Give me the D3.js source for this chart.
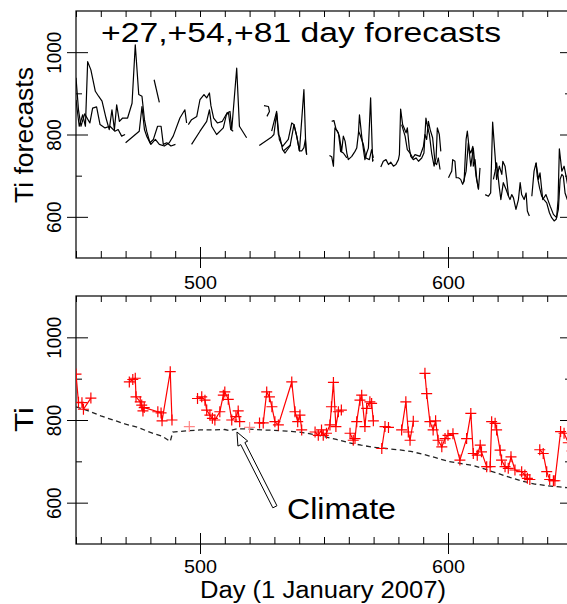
<!DOCTYPE html>
<html>
<head>
<meta charset="utf-8">
<script src="https://cdn.jsdelivr.net/npm/d3@7"></script>
<style>
  body { margin: 0; background: #fff; }
  svg { display: block; }
</style>
</head>
<body>
<div id="chart"></div>
<script>
// axis ranges and ticks
const dayRange = [450, 650];
const tiRange = [500, 1100];
const minorDays = [450, 460, 470, 480, 490, 500, 510, 520, 530, 540, 550, 560, 570, 580, 590, 600, 610, 620, 630, 640, 650];
const majorDays = [500, 600];
const majorTi = [600, 800, 1000];
const minorTi = [700, 900];

// top panel: forecast pieces, [day, Ti]
const fc1a = [[450,884],[451.3,820],[452.7,848],[453.8,820],[454.7,977],[456,957],[457.8,905],[459.1,893],[460.5,881],[462.1,840],[463.4,812],[464.5,860],[465.5,812],[466.4,872],[467.5,832],[468.8,840],[470.8,840],[472.6,876],[473.9,1018],[475.3,897],[476.6,893],[477.6,836],[478.5,808],[479.8,780],[481.2,788],[482.9,820],[484.3,820],[485.2,776],[486.6,780],[488.3,772],[490.1,776]];
const fc1b = [[450,938],[451,860],[452,820],[453.5,850],[455.6,828],[456.7,864],[458.3,867],[459.7,824],[461.7,816],[463.7,820],[465.7,808],[467,812],[468.4,796],[469.8,800]];
const fc1c = [[470,780],[475.5,808],[476.6,868],[477.6,812],[478.5,796],[480.2,776],[482,788],[483.6,776],[485.6,772],[487.6,780],[489.2,796],[491.9,840],[493.9,860],[494.6,828]];
const fc1d = [[496.6,776],[500,808],[502.7,832],[503.8,860],[504.7,820],[506.7,800],[509.4,816],[510.8,852],[512.1,856],[512.8,812],[514.8,961],[515.9,820],[518.8,792]];
const fc1e = [[495.3,824],[496.6,836],[498.7,844],[500,885],[501.6,897],[502.7,889],[503.8,901],[504.4,870],[505.5,840],[507,828],[509,832],[510.5,848],[511.5,852],[512.4,812],[513.4,808]];
const fc1f = [[481.5,933],[483.6,878]];
const fc2a = [[523.9,773],[528.9,794],[529.8,800],[530.9,852],[531.6,800],[532.3,792],[533.3,763],[534.3,755],[536.3,772],[537.9,824],[539,796],[540.1,760],[541.9,909],[542.7,763],[543,751]];
const fc2b = [[525.8,870],[527.6,868],[528,856],[527,844]];
const fc2c = [[528.9,808],[530.9,856],[532,788],[533.3,771],[535.6,788],[537,828],[537.9,824],[539,796],[540.1,760],[541,760],[541.9,768],[542.5,788],[543,751]];
const fc2d = [[533.6,760],[536.6,775]];
const fc3a = [[552.2,749],[553.1,746],[553.8,723],[554.4,816],[555.4,808],[556.2,796],[557.1,759],[557.8,796],[558.5,784],[559.2,755],[559.8,739],[561.2,747],[562.5,759],[563.2,767],[563.9,804],[564.3,848],[565.2,796],[565.9,763],[566.5,739],[567.2,755],[567.9,767],[568.8,889],[569.6,735],[569.9,739]];
const fc3b = [[553.1,832],[554,834],[554.9,812],[555.8,804],[556.5,771],[556.7,759],[557.8,755],[559.2,743]];
const fc3c = [[563.9,808],[564.5,800],[565.9,775],[566.9,743],[568.3,739],[569.2,763],[569.9,743]];
const fc4a = [[572.9,721],[573.9,735],[575,739],[576,727],[576.9,733],[578,723],[579,727],[580,739],[580.4,751],[580.9,862],[581.7,824],[582.3,816],[583.1,804],[583.6,816],[584.4,767],[585,747],[586,739],[587.1,743],[588.1,735],[589.4,743],[590.3,755],[591.1,840],[591.7,820],[592.5,800],[593.4,755],[594.4,723],[595.2,743],[595.7,816],[596.5,800],[597.1,759]];
const fc4b = [[581.3,824],[582.7,796],[583.6,763],[584.7,755],[585.8,743],[586.7,751],[588.7,747],[590.1,771],[590.7,800],[591.4,788],[592.1,832],[592.8,812],[593.8,792],[594.8,731],[595.4,727],[596.1,743],[596.8,715]];
const fc5a = [[600.2,695],[600.8,703],[601.5,711],[601.9,739],[602.8,735],[603.3,695],[604.2,695],[605.1,691],[605.9,679],[606.5,687],[607.3,788],[607.8,808],[608.6,763],[609.2,755],[610,771],[610.2,723],[610.9,739],[611.6,691],[612.3,667],[612.9,719]];
const fc5b = [[606.2,683],[607.3,711],[608.2,780],[609.2,723],[610.2,767],[611.3,699],[612.3,667]];
const fc6a = [[615,654],[616.3,650],[617.2,658],[618,830],[619,747],[619.6,691],[620.7,723],[621.7,703],[622.1,735],[623,723],[623.7,691],[624.4,650]];
const fc6b = [[618.3,691],[619,711],[619.6,731],[620.7,671],[621.3,642],[622.3,683],[623.4,667],[624.4,650],[625,642],[625.7,654],[626.4,646],[627.4,618],[628.4,642],[629.1,683],[629.7,654],[630.7,642],[631.5,658],[632,614],[632.8,602]];
const fc7a = [[633.8,650],[634.7,711],[635.5,731],[636,699],[636.9,671],[637.8,650],[638.7,642],[639.8,634],[640.9,610],[641.8,598],[642.8,590],[643.6,594],[644.5,618],[645.2,691],[645.9,703],[646.5,699],[647.2,658],[648.1,642],[650,650]];
const fc7b = [[635.5,731],[636.5,691],[637.1,707],[638.2,642],[639.5,654],[641.2,626],[642.5,606],[643.8,598],[644.4,642],[644.9,765],[645.9,711],[646.8,723],[647.6,699],[648.5,670],[650,640]];
const forecastLines = [fc1a, fc1b, fc1c, fc1d, fc1e, fc1f, fc2a, fc2b, fc2c, fc2d, fc3a, fc3b, fc3c, fc4a, fc4b, fc5a, fc5b, fc6a, fc6b, fc7a, fc7b];

// bottom panel: observed Ti (null = gap)
const observed = [
  [450,911],[451,843],[452.4,842],[453,826],[456,853], null,
  [471.5,892],[472.9,898],[473.9,901],[474.2,856],[475.9,844],[476.5,836],[477,822],[477.5,830],[483,820],[484.3,817],[484.7,798],[488,917],[488.7,800], null,
  [499,852],[500.7,856],[502,848],[502.7,824],[504,812],[505,804],[506,800],[508,820],[509.4,860],[510,868],[511.4,850],[512.8,800],[514.5,808],[515.4,822],[516,796], null,
  [524,793],[525.5,793],[526.9,868],[528,856],[529,832],[530.2,796],[531.6,788],[537,892],[538.3,820],[539.4,796],[540.3,812],[541,776], null,
  [546.4,771],[547.7,763],[549,776],[549.7,763],[551,768],[552.4,788],[553,832],[553.8,891],[554.8,784],[555.8,820],[557,824], null,
  [560.5,768],[561.8,751],[562.5,755],[563.2,796],[564.5,848],[565.2,860],[566.5,784],[567.2,828],[568.5,844],[569.2,840],[569.9,798], null,
  [573.3,731],[574.6,784],[576,782], null,
  [581.3,776],[583,844],[584,771],[584.7,751],[586,797], null,
  [590.7,913],[591.4,864],[592.7,796],[594,776],[595,798],[596,751],[597.5,735],[598.8,755],[600,763],[602,767],[604.8,703],[607.5,755],[609.2,816],[610.2,719],[611.8,715],[613,739],[613.5,723],[615.6,687],[617,687],[617.6,796],[619,792],[619.6,776],[621,727],[621.6,703],[623,687],[624.3,683],[625.4,711],[627,679],[629.7,675],[631,667],[632,659],[633,656], null,
  [637,728],[638.4,719],[639.8,675],[641,656],[642.5,653],[643.1,653],[645.4,772],[646.8,768],[648.5,745],[650,725]
];
const observedFaint = [[495.7,784],[520,782]];

// climate curve
const climDays = [450,455,460,465,470,475,480,485,488,489,495,500,505,510,512,515,520,525,530,535,540,545,550,555,560,565,570,575,580,585,590,595,600,605,610,615,620,625,630,635,640,645,650];
const climVals = [832,822,810,800,790,782,770,760,748,771,774,776,776,777,774,779,778,776,775,773,771,766,760,753,745,739,734,731,728,724,717,709,700,695,690,681,671,661,652,645,641,638,635];

// arrow: tip and tail in data units
const arrowTip = [514.9, 771];
const arrowTail = [530.2, 590];

function drawChart(){
    const width = 567;
    const height = 604;
    const left = 76;
    const right = 572;
    const font = "'Liberation Sans', Arial, Helvetica, sans-serif";

    const svg = d3.select('#chart')
        .append('svg')
        .attr('width', width)
        .attr('height', height)
        .attr('style', 'background-color: white');

    const x = d3.scaleLinear().domain(dayRange).range([left, right]);

    const panels = [
        {top: 11, bottom: 258, id: 'clipTop'},
        {top: 296, bottom: 544, id: 'clipBot'}
    ];
    panels.forEach(p => {
        p.y = d3.scaleLinear().domain(tiRange).range([p.bottom, p.top]);
    });

    // frames, ticks, labels
    panels.forEach((p, k) => {
        svg.append('defs').append('clipPath').attr('id', p.id)
            .append('rect')
            .attr('x', left).attr('y', p.top)
            .attr('width', right - left).attr('height', p.bottom - p.top);

        svg.append('rect')
            .attr('x', left).attr('y', p.top)
            .attr('width', right - left).attr('height', p.bottom - p.top)
            .attr('fill', 'none').attr('stroke', '#000').attr('stroke-width', 1.2);

        // minor day ticks bottom & top (inward)
        svg.append('g')
            .attr('transform', `translate(0,${p.bottom})`)
            .call(d3.axisBottom(x).tickValues(minorDays).tickSizeInner(-7).tickSizeOuter(0).tickFormat(''))
            .call(g => g.select('.domain').remove());
        svg.append('g')
            .attr('transform', `translate(0,${p.top})`)
            .call(d3.axisTop(x).tickValues(minorDays).tickSizeInner(-6).tickSizeOuter(0).tickFormat(''))
            .call(g => g.select('.domain').remove());

        // major day ticks with labels
        const maj = svg.append('g')
            .attr('transform', `translate(0,${p.bottom})`)
            .call(d3.axisBottom(x).tickValues(majorDays).tickSizeInner(10).tickSizeOuter(0).tickFormat(d3.format('d')));
        maj.select('.domain').remove();
        maj.selectAll('line').attr('y1', -11);
        maj.selectAll('text')
            .attr('y', k === 0 ? 31 : 29).attr('dy', 0)
            .attr('font-size', 18).attr('font-family', font).attr('fill', '#000')
            .attr('textLength', 33).attr('lengthAdjust', 'spacingAndGlyphs');

        // left axis
        const yl = svg.append('g')
            .attr('transform', `translate(${left},0)`)
            .call(d3.axisLeft(p.y).tickValues(majorTi).tickSizeInner(9).tickSizeOuter(0).tickFormat(d3.format('d')));
        yl.select('.domain').remove();
        yl.selectAll('line').attr('x1', 12);
        yl.selectAll('text')
            .attr('x', 0).attr('dy', 0)
            .attr('text-anchor', 'middle')
            .attr('transform', 'translate(-15,0) rotate(-90)')
            .attr('font-size', 21).attr('font-family', font).attr('fill', '#000')
            .attr('textLength', d => String(d).length * 10.5)
            .attr('lengthAdjust', 'spacingAndGlyphs');
        svg.append('g')
            .attr('transform', `translate(${left},0)`)
            .call(d3.axisLeft(p.y).tickValues(minorTi).tickSizeInner(-6).tickSizeOuter(0).tickFormat(''))
            .call(g => g.select('.domain').remove());

        // right axis (inward ticks)
        svg.append('g')
            .attr('transform', `translate(${right},0)`)
            .call(d3.axisRight(p.y).tickValues(majorTi).tickSizeInner(-12).tickSizeOuter(0).tickFormat(''))
            .call(g => g.select('.domain').remove());
        svg.append('g')
            .attr('transform', `translate(${right},0)`)
            .call(d3.axisRight(p.y).tickValues(minorTi).tickSizeInner(-7).tickSizeOuter(0).tickFormat(''))
            .call(g => g.select('.domain').remove());
    });

    const yT = panels[0].y;
    const yB = panels[1].y;

    // ---- top panel: forecasts
    const fline = d3.line().x(d => x(d[0])).y(d => yT(d[1]));
    svg.append('g').attr('clip-path', 'url(#clipTop)')
        .selectAll('path')
        .data(forecastLines)
        .enter()
        .append('path')
        .attr('d', d => fline(d))
        .attr('fill', 'none')
        .attr('stroke', '#000')
        .attr('stroke-width', 1.2)
        .attr('stroke-linejoin', 'round');

    svg.append('text')
        .attr('x', 101).attr('y', 42)
        .attr('font-size', 27).attr('font-family', font)
        .attr('textLength', 400).attr('lengthAdjust', 'spacingAndGlyphs')
        .text('+27,+54,+81 day forecasts');

    svg.append('text')
        .attr('transform', 'translate(33,135) rotate(-90)')
        .attr('text-anchor', 'middle')
        .attr('font-size', 25).attr('font-family', font)
        .attr('textLength', 136).attr('lengthAdjust', 'spacingAndGlyphs')
        .text('Ti forecasts');

    // ---- bottom panel
    const gB = svg.append('g').attr('clip-path', 'url(#clipBot)');

    const climate = climDays.map((d, i) => [d, climVals[i]]);
    gB.append('path')
        .attr('d', d3.line().x(d => x(d[0])).y(d => yB(d[1]))(climate))
        .attr('fill', 'none')
        .attr('stroke', '#222')
        .attr('stroke-width', 1.3)
        .attr('stroke-dasharray', '5,3.5');

    const oline = d3.line()
        .defined(d => d !== null)
        .x(d => x(d[0])).y(d => yB(d[1]));
    gB.append('path')
        .attr('d', oline(observed))
        .attr('fill', 'none')
        .attr('stroke', '#ff0000')
        .attr('stroke-width', 1.2);

    const plus = 'M-5.5,0H5.5M0,-5.5V5.5';
    gB.selectAll('.pt')
        .data(observed.filter(d => d !== null))
        .enter()
        .append('path')
        .attr('class', 'pt')
        .attr('d', plus)
        .attr('transform', d => `translate(${x(d[0])},${yB(d[1])})`)
        .attr('stroke', '#ff0000')
        .attr('stroke-width', 1.2)
        .attr('fill', 'none');
    gB.selectAll('.ptf')
        .data(observedFaint)
        .enter()
        .append('path')
        .attr('class', 'ptf')
        .attr('d', plus)
        .attr('transform', d => `translate(${x(d[0])},${yB(d[1])})`)
        .attr('stroke', '#ff8888')
        .attr('stroke-width', 1.2)
        .attr('fill', 'none');

    // hollow arrow pointing at the climate curve
    const tip = [x(arrowTip[0]), yB(arrowTip[1])];
    const tail = [x(arrowTail[0]), yB(arrowTail[1])];
    const len = Math.hypot(tail[0] - tip[0], tail[1] - tip[1]);
    const u = [(tail[0] - tip[0]) / len, (tail[1] - tip[1]) / len];
    const n = [-u[1], u[0]];
    const hl = 13, hw = 5.5, sw = 2.3;
    const pt = (base, a, b) => [base[0] + u[0] * a + n[0] * b, base[1] + u[1] * a + n[1] * b];
    const arrowPts = [
        tip, pt(tip, hl, hw), pt(tip, hl, sw), pt(tail, 0, sw),
        pt(tail, 0, -sw), pt(tip, hl, -sw), pt(tip, hl, -hw)
    ];
    svg.append('polygon')
        .attr('points', arrowPts.map(p => p.join(',')).join(' '))
        .attr('fill', '#fff')
        .attr('stroke', '#000')
        .attr('stroke-width', 1);

    svg.append('text')
        .attr('x', 287).attr('y', 519)
        .attr('font-size', 30).attr('font-family', font)
        .attr('textLength', 109).attr('lengthAdjust', 'spacingAndGlyphs')
        .text('Climate');

    svg.append('text')
        .attr('transform', 'translate(33,419.5) rotate(-90)')
        .attr('text-anchor', 'middle')
        .attr('font-size', 25).attr('font-family', font)
        .attr('textLength', 25).attr('lengthAdjust', 'spacingAndGlyphs')
        .text('Ti');

    svg.append('text')
        .attr('x', 200).attr('y', 598)
        .attr('font-size', 23).attr('font-family', font)
        .attr('textLength', 246).attr('lengthAdjust', 'spacingAndGlyphs')
        .text('Day (1 January 2007)');
}

window.addEventListener('load', drawChart);
</script>
</body>
</html>
